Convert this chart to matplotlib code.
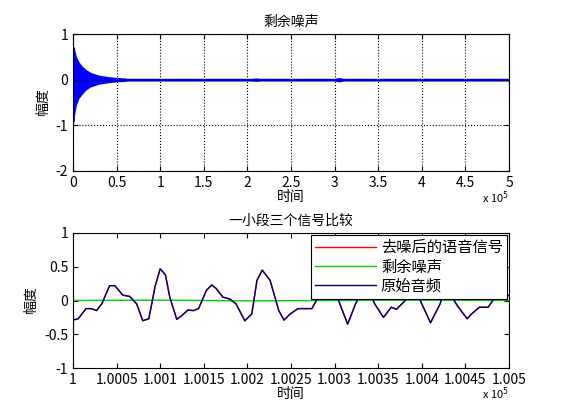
import matplotlib.pyplot as plt
import numpy as np
from matplotlib.ticker import FuncFormatter

plt.rcParams['font.family'] = ['Noto Sans CJK SC', 'DejaVu Sans']
plt.rcParams['font.size'] = 10

# top panel: envelope of residual noise (sample index, upper, lower)
env_x = [0, 1000, 3000, 6000, 10000, 15000, 20000, 30000, 40000, 50000, 60000, 62000,
         205000, 210000, 215000, 300000, 305000, 310000, 400000, 405000, 410000, 500000]
env_hi = [0.72, 0.65, 0.5, 0.38, 0.28, 0.2, 0.14, 0.08, 0.05, 0.03, 0.02, 0.012,
          0.012, 0.02, 0.012, 0.012, 0.03, 0.012, 0.012, 0.015, 0.012, 0.012]
env_lo = [-0.92, -0.75, -0.55, -0.4, -0.3, -0.2, -0.14, -0.08, -0.05, -0.03, -0.02, -0.012,
          -0.012, -0.02, -0.012, -0.012, -0.03, -0.012, -0.012, -0.015, -0.012, -0.012]

# bottom panel: short segment of the three signals
seg_idx = [0, 6, 15, 21, 27, 33, 42, 48, 57, 65, 73, 80, 87, 94, 100, 106, 111, 119, 125,
           132, 138, 144, 153, 159, 164, 172, 180, 187, 197, 205, 211, 217, 226, 236, 242,
           249, 258, 274, 283, 292, 299, 306, 315, 324, 336, 346, 356, 365, 371, 381, 391,
           400, 410, 421, 427, 442, 452, 457, 466, 476, 486, 496, 500]
seg_val = [-0.29, -0.27, -0.12, -0.12, -0.15, -0.05, 0.22, 0.22, 0.08, 0.06, -0.05, -0.30,
           -0.27, 0.2, 0.47, 0.38, 0.05, -0.28, -0.22, -0.14, -0.15, -0.12, 0.15, 0.23,
           0.18, 0.05, 0.02, -0.05, -0.30, -0.2, 0.3, 0.45, 0.3, -0.15, -0.29, -0.2, -0.12,
           -0.12, 0.1, 0.22, 0.2, -0.05, -0.35, -0.05, 0.25, -0.05, -0.25, -0.1, -0.13,
           0.0, 0.2, -0.05, -0.33, -0.05, 0.2, -0.1, -0.27, -0.2, -0.1, -0.1, 0.08, 0.05, 0.08]
seg_start = 100000
noise_seg = [0.0, 0.005, -0.005, 0.0, 0.005, 0.0]
noise_idx = [0, 100, 200, 300, 400, 500]

fig = plt.figure(figsize=(5.61, 4.2), dpi=100)
fmt_x = FuncFormatter(lambda v, p: f"{v / 1e5:g}")
fmt_y = FuncFormatter(lambda v, p: f"{v:g}")

ax1 = fig.add_axes([73 / 561, 1 - 171 / 420, 436 / 561, 137 / 420])
ax1.fill_between(env_x, env_lo, env_hi, color='#0000ff', lw=1.2, edgecolor='#0000ff')
ax1.set_xlim(0, 500000)
ax1.set_ylim(-2, 1)
ax1.set_xticks(np.arange(0, 500001, 50000))
ax1.set_yticks([-2, -1, 0, 1])
ax1.grid(True, ls=':', color='black', lw=0.8)
ax1.set_title('剩余噪声', fontsize=10)
ax1.set_xlabel('时间', labelpad=0)
ax1.set_ylabel('幅度')
ax1.text(1.0, -0.23, r'x 10$^5$', transform=ax1.transAxes, ha='right', fontsize=8)

ax2 = fig.add_axes([73 / 561, 1 - 368 / 420, 436 / 561, 135 / 420])
xs = [seg_start + i for i in seg_idx]
ax2.plot(xs, seg_val, color='red', lw=1, label='去噪后的语音信号')
ax2.plot([seg_start + i for i in noise_idx], noise_seg, color='#00cc00', lw=1, label='剩余噪声')
ax2.plot(xs, seg_val, color='#000080', lw=1, label='原始音频')
ax2.set_xlim(100000, 100500)
ax2.set_ylim(-1, 1)
ax2.set_xticks(np.arange(100000, 100501, 50))
ax2.set_yticks([-1, -0.5, 0, 0.5, 1])
ax2.set_title('一小段三个信号比较', fontsize=10)
ax2.set_xlabel('时间', labelpad=0)
ax2.set_ylabel('幅度')
ax2.text(1.0, -0.23, r'x 10$^5$', transform=ax2.transAxes, ha='right', fontsize=8)
leg = ax2.legend(loc='upper right', fancybox=False, framealpha=1, edgecolor='black',
                 borderaxespad=0.15, handlelength=4, labelspacing=0.15, fontsize=11,
                 borderpad=0.25, handletextpad=0.3)
leg.get_frame().set_linewidth(0.8)

for ax in (ax1, ax2):
    ax.xaxis.set_major_formatter(fmt_x)
    ax.yaxis.set_major_formatter(fmt_y)
    ax.tick_params(direction='in', top=True, right=True, labelsize=10)

fig.savefig('out.png', dpi=100)
